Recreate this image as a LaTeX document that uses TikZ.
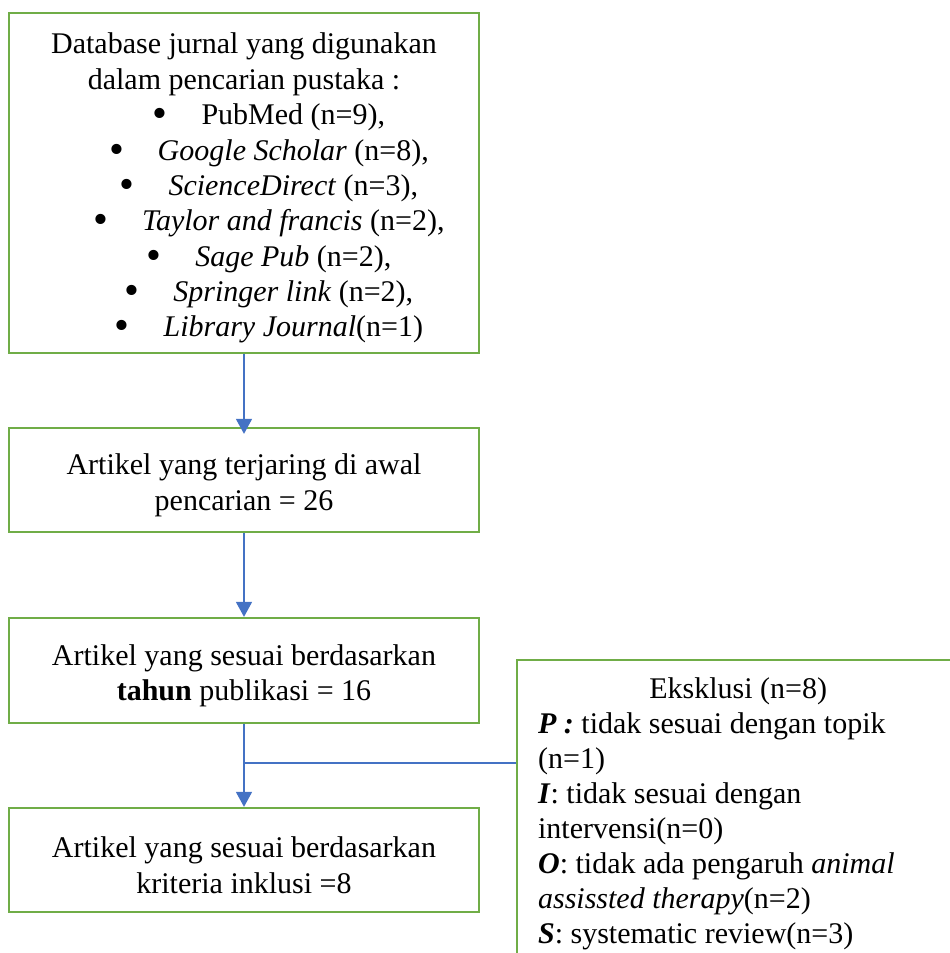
\documentclass[tikz,border=0pt]{standalone}
\usepackage{fontspec}
\setmainfont{Liberation Serif}
\usepackage{xcolor}
\usepackage{tikz}
\usetikzlibrary{arrows.meta,positioning,calc}

\definecolor{boxgreen}{RGB}{112,173,71}
\definecolor{flowblue}{RGB}{68,114,196}
\newcommand{\topstrut}{\rule{0pt}{12.5pt}}
\newcommand{\dbitem}[1]{\hspace*{20pt}\raisebox{-1.2pt}{\fontsize{17}{14}\selectfont\textbullet}\hspace{13.5pt}#1}

\begin{document}
\begin{tikzpicture}[x=0.4pt,y=-0.4pt,
  box/.style={draw=boxgreen,line width=0.9pt,font=\fontsize{12}{14.15}\selectfont},
  flowbox/.style={box,minimum width=188pt,align=flush center},
  flow/.style={draw=flowblue,line width=0.6pt,-{Triangle[width=6.4pt,length=6pt]}}]
\useasboundingbox (0,0) rectangle (950,953);
\clip (0,0) rectangle (950,953);
% boxes of the search flow
\node[flowbox,minimum height=136pt] (db) at (244,183) {\topstrut Database jurnal yang digunakan\\
  dalam pencarian pustaka :\\
  \dbitem{PubMed (n=9),}\\
  \dbitem{\textit{Google Scholar} (n=8),}\\
  \dbitem{\textit{ScienceDirect} (n=3),}\\
  \dbitem{\textit{Taylor and francis} (n=2),}\\
  \dbitem{\textit{Sage Pub} (n=2),}\\
  \dbitem{\textit{Springer link} (n=2),}\\
  \dbitem{\textit{Library Journal}(n=1)}};
\node[flowbox,minimum height=41.6pt] (awal) at (244,480) {\topstrut Artikel yang terjaring di awal\\ pencarian = 26};
\node[flowbox,minimum height=42pt] (tahun) at (244,670.5) {\topstrut Artikel yang sesuai berdasarkan\\ \textbf{tahun} publikasi = 16};
\node[flowbox,minimum height=41.6pt] (inklusi) at (244,860) {\topstrut Artikel yang sesuai berdasarkan\\ kriteria inklusi =8};
% exclusion box, runs off the page
\node[box,anchor=north west,align=flush left,text width=160pt,inner xsep=8.4pt,inner ysep=7pt,
  minimum height=120pt,font=\fontsize{12}{14}\selectfont] (eksklusi) at (516,659) {\makebox[160pt]{Eksklusi (n=8)}\\
  \textbf{\textit{P :}} tidak sesuai dengan topik\\
  (n=1)\\
  \textbf{\textit{I}}: tidak sesuai dengan\\
  intervensi(n=0)\\
  \textbf{\textit{O}}: tidak ada pengaruh \textit{animal}\\
  \textit{assissted therapy}(n=2)\\
  \textbf{\textit{S}}: systematic review(n=3)};
% connectors
\draw[flow,shorten >=-2.8pt] (db.south) -- (awal.north);
\draw[flow] (awal.south) -- (tahun.north);
\draw[flow] (tahun.south) -- (inklusi.north);
\coordinate (cabang) at ($(tahun.south)!0.47!(inklusi.north)$);
\draw[flowblue,line width=0.6pt] (cabang) -- (cabang -| eksklusi.west);
\end{tikzpicture}
\end{document}
